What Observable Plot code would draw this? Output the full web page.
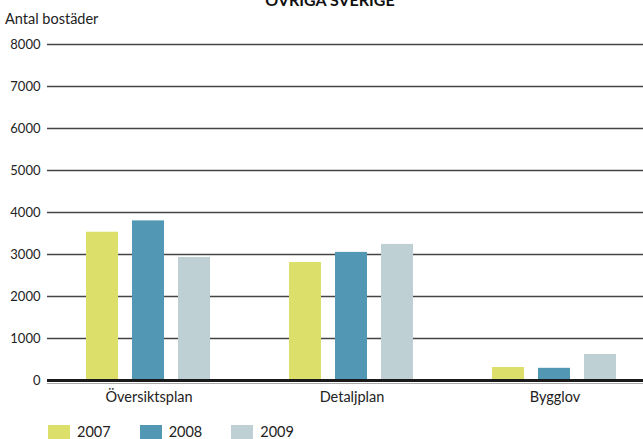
<!DOCTYPE html>
<html>
<head>
<meta charset="utf-8">
<script src="https://cdn.jsdelivr.net/npm/d3@7"></script>
<script src="https://cdn.jsdelivr.net/npm/@observablehq/plot@0.6"></script>
<style>
  html, body { margin: 0; padding: 0; background: #fff; overflow: hidden; }
  body { width: 643px; height: 439px; position: relative; font-family: Lato, "Open Sans", sans-serif; color: #222; }
  #title { position: absolute; left: 0; width: 660px; top: -8px; text-align: center; font-weight: bold; font-size: 16px; line-height: 16px; color: #111; }
  #ylabel { position: absolute; left: 5px; top: 11px; font-size: 14.5px; line-height: 16px; color: #222; }
  #chart { position: absolute; left: 0; top: 0; }
  #legend { position: absolute; left: 48px; top: 425px; display: flex; font-size: 14.5px; line-height: 14px; color: #222; }
  .item { display: flex; align-items: center; margin-right: 29px; }
  .sw { width: 22px; height: 14px; margin-right: 7px; }
</style>
</head>
<body>
<div id="title">ÖVRIGA SVERIGE</div>
<div id="ylabel">Antal bostäder</div>
<div id="chart"></div>
<div id="legend"></div>
<script>
const categories = ["Översiktsplan", "Detaljplan", "Bygglov"];
const years = ["2007", "2008", "2009"];
const values2007 = [3530, 2810, 310];
const values2008 = [3800, 3050, 290];
const values2009 = [2930, 3240, 620];
const yTicks = [0, 1000, 2000, 3000, 4000, 5000, 6000, 7000, 8000];
const colors = ["#dce06a", "#5297b3", "#bfd0d4"];

const series = [values2007, values2008, values2009];
const data = [];
categories.forEach((c, i) => {
  years.forEach((y, j) => data.push({cat: c, year: y, value: series[j][i]}));
});

const chart = Plot.plot({
  width: 643,
  height: 410,
  marginTop: 44,
  marginBottom: 30,
  marginLeft: 47,
  marginRight: 0,
  style: {fontFamily: "Lato, 'Open Sans', sans-serif", fontSize: "13px", color: "#222", background: "transparent"},
  fx: {domain: categories, range: [47, 656], padding: 0, label: null, tickSize: 0, tickPadding: 11, axis: "bottom"},
  x: {domain: years, paddingInner: 0.298, paddingOuter: 0.81, axis: null},
  y: {domain: [0, 8000], ticks: yTicks, tickSize: 0, tickPadding: 7, label: null, tickFormat: d => String(d)},
  color: {domain: years, range: colors},
  marks: [
    Plot.ruleY(yTicks.filter(d => d > 0), {stroke: "#444", strokeWidth: 1.3}),
    Plot.barY(data, {fx: "cat", x: "year", y: "value", fill: "year"}),
    Plot.ruleY([0], {stroke: "#aaa", strokeWidth: 1, dy: 3}),
    Plot.ruleY([0], {stroke: "#1a1a1a", strokeWidth: 3})
  ]
});
chart.querySelectorAll("[aria-label='fx-axis tick label'] text, [aria-label='fx-axis'] text").forEach(t => t.style.fontSize = "14.5px");
document.getElementById("chart").appendChild(chart);

const legend = document.getElementById("legend");
years.forEach((y, i) => {
  const item = document.createElement("div");
  item.className = "item";
  item.innerHTML = `<span class="sw" style="background:${colors[i]}"></span><span>${y}</span>`;
  legend.appendChild(item);
});
</script>
</body>
</html>
